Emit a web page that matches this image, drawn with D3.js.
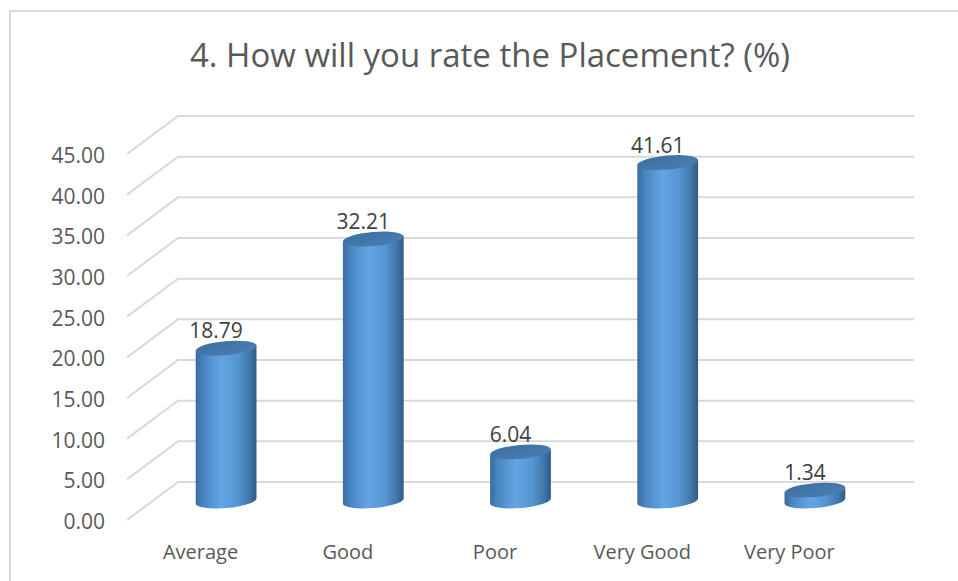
<!DOCTYPE html>
<html>
<head>
<meta charset="utf-8">
<script src="https://cdn.jsdelivr.net/npm/d3@7"></script>
<style>
  body { margin: 0; background: #fff; }
  text { font-family: "Open Sans", sans-serif; fill: #595959; }
</style>
</head>
<body>
<script>
var categories = ["Average", "Good", "Poor", "Very Good", "Very Poor"];
var values = [18.79, 32.21, 6.04, 41.61, 1.34];
var tickValues = [0, 5, 10, 15, 20, 25, 30, 35, 40, 45];
var title = "4. How will you rate the Placement? (%)";

var width = 958, height = 581;
// 3d depth offset of the back wall
var depthX = 51, depthY = -38;

var svg = d3.select("body").append("svg")
    .attr("width", width)
    .attr("height", height);

// chart frame
svg.append("rect")
    .attr("x", 10).attr("y", 11)
    .attr("width", 980).attr("height", 600)
    .attr("fill", "#fff")
    .attr("stroke", "#d9d9d9")
    .attr("stroke-width", 2);

var defs = svg.append("defs");
var bodyGrad = defs.append("linearGradient").attr("id", "cyl").attr("x1", 0).attr("x2", 1).attr("y1", 0).attr("y2", 0);
[["0%", "#3a6b9d"], ["12%", "#4885c1"], ["42%", "#63a6e4"], ["70%", "#5595d0"], ["90%", "#3f73a6"], ["100%", "#2f5a86"]]
  .forEach(function(s) { bodyGrad.append("stop").attr("offset", s[0]).attr("stop-color", s[1]); });
var topGrad = defs.append("linearGradient").attr("id", "cylTop").attr("x1", 0).attr("x2", 1).attr("y1", 0).attr("y2", 1);
[["0%", "#3d6e9f"], ["100%", "#4a7fb4"]]
  .forEach(function(s) { topGrad.append("stop").attr("offset", s[0]).attr("stop-color", s[1]); });

var x = d3.scaleBand().domain(categories).range([127, 863]);
var y = d3.scaleLinear().domain([0, 45]).range([520, 154]);

// gridlines (front slant + back wall)
svg.selectAll(".grid")
  .data(tickValues)
  .enter().append("polyline")
  .attr("class", "grid")
  .attr("fill", "none")
  .attr("stroke", "#d9d9d9")
  .attr("stroke-width", 2)
  .attr("points", function(d) {
    var yf = y(d);
    return [[127, yf], [127 + depthX, yf + depthY], [914, yf + depthY]].join(" ");
  });

// tick labels
svg.selectAll(".tick")
  .data(tickValues)
  .enter().append("text")
  .attr("class", "tick")
  .attr("x", 105)
  .attr("y", function(d) { return y(d) + 9; })
  .attr("text-anchor", "end")
  .style("font-size", "21px")
  .text(function(d) { return d.toFixed(2); });

// cylinders
var rx = 30.5, ry = 7, tilt = -5 * Math.PI / 180;
var ex = rx * Math.cos(tilt), ey = rx * Math.sin(tilt);

var bars = svg.selectAll(".bar")
  .data(categories)
  .enter().append("g")
  .attr("class", "bar");

function cx(c) { return x(c) + x.bandwidth() / 2 + depthX / 2; }
function cy(v) { return y(v) + depthY / 2; }

bars.append("path")
  .attr("fill", "url(#cyl)")
  .attr("d", function(c, i) {
    var X = cx(c), yt = cy(values[i]), yb = cy(0);
    return "M" + (X - ex) + "," + (yt - ey) +
      "L" + (X - ex) + "," + (yb - ey) +
      "A" + rx + "," + ry + " -5 0 0 " + (X + ex) + "," + (yb + ey) +
      "L" + (X + ex) + "," + (yt + ey) + "Z";
  });

bars.append("ellipse")
  .attr("fill", "url(#cylTop)")
  .attr("cx", function(c) { return cx(c); })
  .attr("cy", function(c, i) { return cy(values[i]); })
  .attr("rx", rx).attr("ry", ry)
  .attr("transform", function(c, i) { return "rotate(-5," + cx(c) + "," + cy(values[i]) + ")"; });

// value labels
svg.selectAll(".val")
  .data(categories)
  .enter().append("text")
  .attr("class", "val")
  .attr("x", function(c) { return cx(c) - 10; })
  .attr("y", function(c, i) { return cy(values[i]) - 10; })
  .attr("text-anchor", "middle")
  .style("font-size", "21px")
  .style("fill", "#404040")
  .text(function(c, i) { return values[i].toFixed(2); });

// category labels
svg.selectAll(".cat")
  .data(categories)
  .enter().append("text")
  .attr("class", "cat")
  .attr("x", function(c) { return x(c) + x.bandwidth() / 2; })
  .attr("y", 559)
  .attr("text-anchor", "middle")
  .style("font-size", "20px")
  .text(function(c) { return c; });

svg.append("text")
  .attr("x", 490)
  .attr("y", 67)
  .attr("text-anchor", "middle")
  .style("font-size", "33px")
  .text(title);
</script>
</body>
</html>
